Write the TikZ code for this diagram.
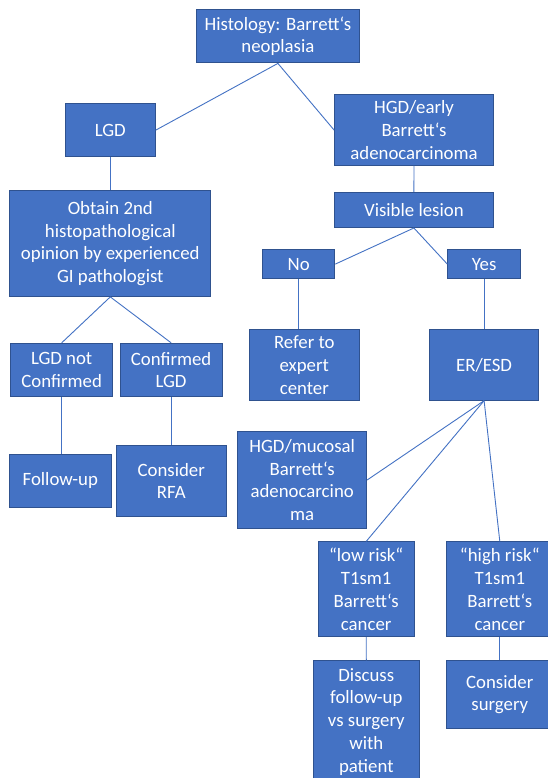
\documentclass[tikz,border=0pt]{standalone}
\usepackage{fontspec}
\setmainfont{Carlito}
\definecolor{boxfill}{HTML}{4472C4}
\definecolor{boxline}{HTML}{2F528F}
\definecolor{conn}{HTML}{4472C4}
\begin{document}
\begin{tikzpicture}[x=1pt,y=-1pt,
  box/.style={draw=boxline, line width=0.9pt, fill=boxfill, text=white, align=center,
    inner sep=0pt, font=\fontsize{18.8}{22.8}\selectfont},
  link/.style={draw=conn, line width=0.9pt}]
\useasboundingbox (0,0) rectangle (548,778);
\clip (0,0) rectangle (548,778);
\fill[white] (0,0) rectangle (548,778);
\newcommand{\bx}[6]{\node[box, minimum width=#4, minimum height=#5] (#1) at (#2,#3) {#6};}
\bx{hist}{277.9}{36.2}{162.9}{53.5}{Histology: Barrett‘s\\neoplasia}
\bx{lgd}{110.3}{130.2}{89.8}{53.4}{LGD}
\bx{hgd}{414}{130}{159}{70.6}{HGD/early\\Barrett‘s\\adenocarcinoma}
\bx{obtain}{110.3}{243.5}{201}{105.9}{Obtain 2nd\\histopathological\\opinion by experienced\\GI pathologist}
\bx{vis}{413.9}{209.9}{158.7}{35.3}{Visible lesion}
\bx{no}{298.7}{264.1}{72.3}{29}{No}
\bx{yes}{484.1}{264.1}{72.7}{29}{Yes}
\bx{refer}{304.3}{364.9}{110.1}{70.6}{Refer to\\expert\\center}
\bx{eresd}{484.1}{364.9}{109}{70.6}{ER/ESD}
\bx{lgdnot}{61.7}{370}{101.7}{53.5}{LGD not\\Confirmed}
\bx{conf}{171.1}{370}{101.8}{53.5}{Confirmed\\LGD}
\bx{follow}{60.3}{480.9}{101.8}{53.5}{Follow-up}
\bx{rfa}{171.3}{480.9}{109.7}{70.9}{Consider\\RFA}
\bx{mucosal}{302.2}{480}{129}{97.1}{HGD/mucosal\\Barrett‘s\\adenocarcino\\ma}
\bx{low}{366.2}{589.3}{96.4}{94.9}{“low risk“\\T1sm1\\Barrett‘s\\cancer}
\bx{high}{499.8}{589.3}{107}{94.9}{“high risk“\\T1sm1\\Barrett‘s\\cancer}
\bx{discuss}{366.3}{721.7}{106.7}{122}{Discuss\\follow-up\\vs surgery\\with\\patient}
\bx{surgery}{499.8}{694.5}{107}{67.6}{Consider\\surgery}
\path[link] (hist.south) -- (lgd.east);
\path[link] (hist.south) -- (hgd.west);
\path[link] (lgd.south) -- (obtain.north);
\path[link] (hgd.south) -- (vis.north);
\path[link] (vis.south) -- (no.east);
\path[link] (vis.south) -- (yes.west);
\path[link] (no.south) -- (no.south |- refer.north);
\path[link] (yes.south) -- (eresd.north);
\path[link] (obtain.south) -- (lgdnot.north);
\path[link] (obtain.south) -- (conf.north);
\path[link] (lgdnot.south) -- (lgdnot.south |- follow.north);
\path[link] (conf.south) -- (conf.south |- rfa.north);
\path[link] (eresd.south) -- (mucosal.east);
\path[link] (eresd.south) -- (low.north);
\path[link] (eresd.south) -- (high.north);
\path[link] (low.south) -- (discuss.north);
\path[link] (high.south) -- (surgery.north);
\end{tikzpicture}
\end{document}
